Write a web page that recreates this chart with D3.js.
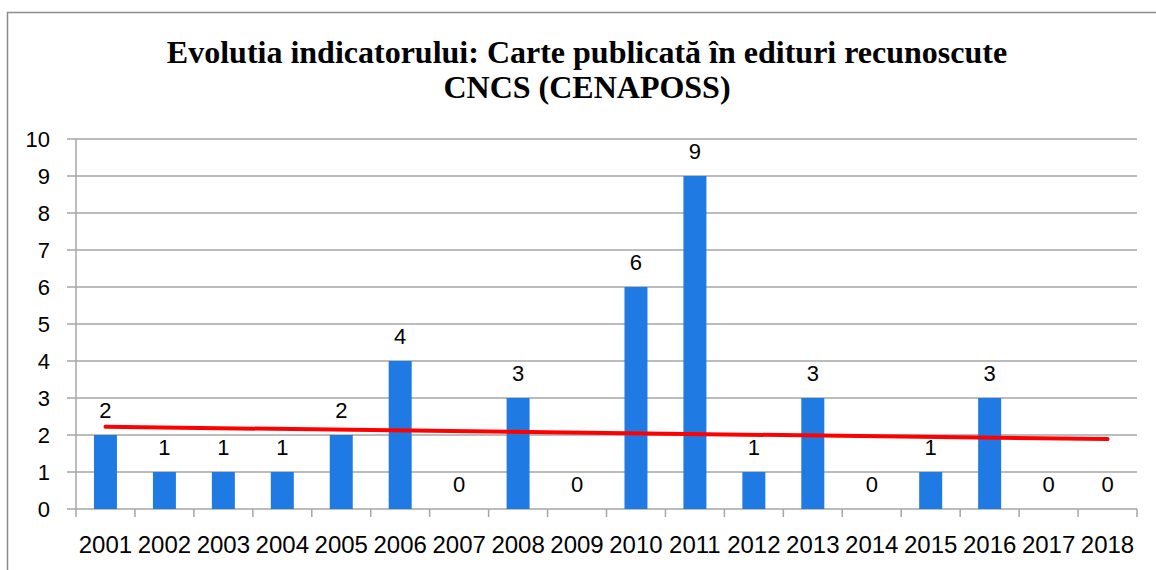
<!DOCTYPE html>
<html>
<head>
<meta charset="utf-8">
<script src="https://cdn.jsdelivr.net/npm/d3@7"></script>
<style>
  body { margin: 0; background: #fff; }
  svg { display: block; }
</style>
</head>
<body>
<svg class="svg"></svg>
<script>
let years = ["2001","2002","2003","2004","2005","2006","2007","2008","2009",
             "2010","2011","2012","2013","2014","2015","2016","2017","2018"]
let counts = [2,1,1,1,2,4,0,3,0,6,9,1,3,0,1,3,0,0]
let yTicks = [0,1,2,3,4,5,6,7,8,9,10]
let titleLines = ["Evolutia indicatorului: Carte publicată în edituri recunoscute",
                  "CNCS (CENAPOSS)"]

let width = 1156
let height = 570
let margin = {left: 76, right: 19, top: 139, bottom: 61}

let svg = d3.select(".svg").attr("width", width).attr("height", height)

// outer frame (runs off the right and bottom edge)
svg.append("rect")
   .attr("x", 7.5).attr("y", 12.5)
   .attr("width", width).attr("height", height)
   .attr("fill", "none")
   .attr("stroke", "#8c8c8c")
   .attr("stroke-width", 1.5)

let x = d3.scaleBand()
          .domain(years)
          .range([margin.left, width - margin.right])
          .paddingInner(0.61)
          .paddingOuter(0.305)
let xEdge = d3.scaleLinear().domain([0, years.length]).range([margin.left, width - margin.right])
let y = d3.scaleLinear().domain([0, 10]).range([height - margin.bottom, margin.top])

// gridlines
svg.append("g")
   .selectAll("line")
   .data(yTicks)
   .enter()
   .append("line")
   .attr("x1", margin.left - 9)
   .attr("x2", width - margin.right)
   .attr("y1", d => y(d))
   .attr("y2", d => y(d))
   .attr("stroke", "#a6a6a6")
   .attr("stroke-width", 1.5)

// y axis
let yAxis = d3.axisLeft(y).tickValues(yTicks).tickSize(0).tickPadding(26)
let yG = svg.append("g").attr("transform", `translate(${margin.left},0)`).call(yAxis)
yG.select(".domain").remove()
yG.selectAll("text")
  .style("font-family", "Liberation Sans, Arial, sans-serif")
  .style("font-size", "22px")
  .attr("fill", "#000")
svg.append("line")
   .attr("x1", margin.left).attr("x2", margin.left)
   .attr("y1", y(10)).attr("y2", y(0))
   .attr("stroke", "#a6a6a6").attr("stroke-width", 1.5)

// x axis with ticks on category edges
svg.append("g")
   .selectAll("line")
   .data(d3.range(years.length + 1))
   .enter()
   .append("line")
   .attr("x1", d => xEdge(d))
   .attr("x2", d => xEdge(d))
   .attr("y1", y(0))
   .attr("y2", y(0) + 8)
   .attr("stroke", "#a6a6a6")
   .attr("stroke-width", 1.5)

svg.append("g")
   .selectAll("text")
   .data(years)
   .enter()
   .append("text")
   .attr("x", d => x(d) + x.bandwidth() / 2)
   .attr("y", 553)
   .attr("text-anchor", "middle")
   .style("font-family", "Liberation Sans, Arial, sans-serif")
   .style("font-size", "24px")
   .text(d => d)

// bars
svg.append("g")
   .selectAll("rect")
   .data(counts)
   .enter()
   .append("rect")
   .attr("x", (d, i) => x(years[i]))
   .attr("y", d => y(d))
   .attr("width", x.bandwidth())
   .attr("height", d => y(0) - y(d))
   .attr("fill", "#1f7be3")

// value labels
svg.append("g")
   .selectAll("text")
   .data(counts)
   .enter()
   .append("text")
   .attr("x", (d, i) => x(years[i]) + x.bandwidth() / 2)
   .attr("y", d => y(d) - 17)
   .attr("text-anchor", "middle")
   .style("font-family", "Liberation Sans, Arial, sans-serif")
   .style("font-size", "22px")
   .text(d => d)

// linear trendline
let n = counts.length
let xs = d3.range(1, n + 1)
let mx = d3.mean(xs)
let my = d3.mean(counts)
let slope = d3.sum(xs, (v, i) => (v - mx) * (counts[i] - my)) / d3.sum(xs, v => (v - mx) * (v - mx))
let icpt = my - slope * mx
let trend = [1, n].map(v => [years[v - 1], icpt + slope * v])

svg.append("path")
   .datum(trend)
   .attr("d", d3.line().x(d => x(d[0]) + x.bandwidth() / 2).y(d => y(d[1])))
   .attr("stroke", "#ff0000")
   .attr("stroke-width", 4)
   .attr("stroke-linecap", "round")
   .attr("fill", "none")

// title
svg.append("g")
   .selectAll("text")
   .data(titleLines)
   .enter()
   .append("text")
   .attr("x", 587)
   .attr("y", (d, i) => 63 + i * 35)
   .attr("text-anchor", "middle")
   .style("font-family", "Liberation Serif, Times New Roman, serif")
   .style("font-weight", "bold")
   .style("font-size", "32px")
   .text(d => d)
</script>
</body>
</html>
